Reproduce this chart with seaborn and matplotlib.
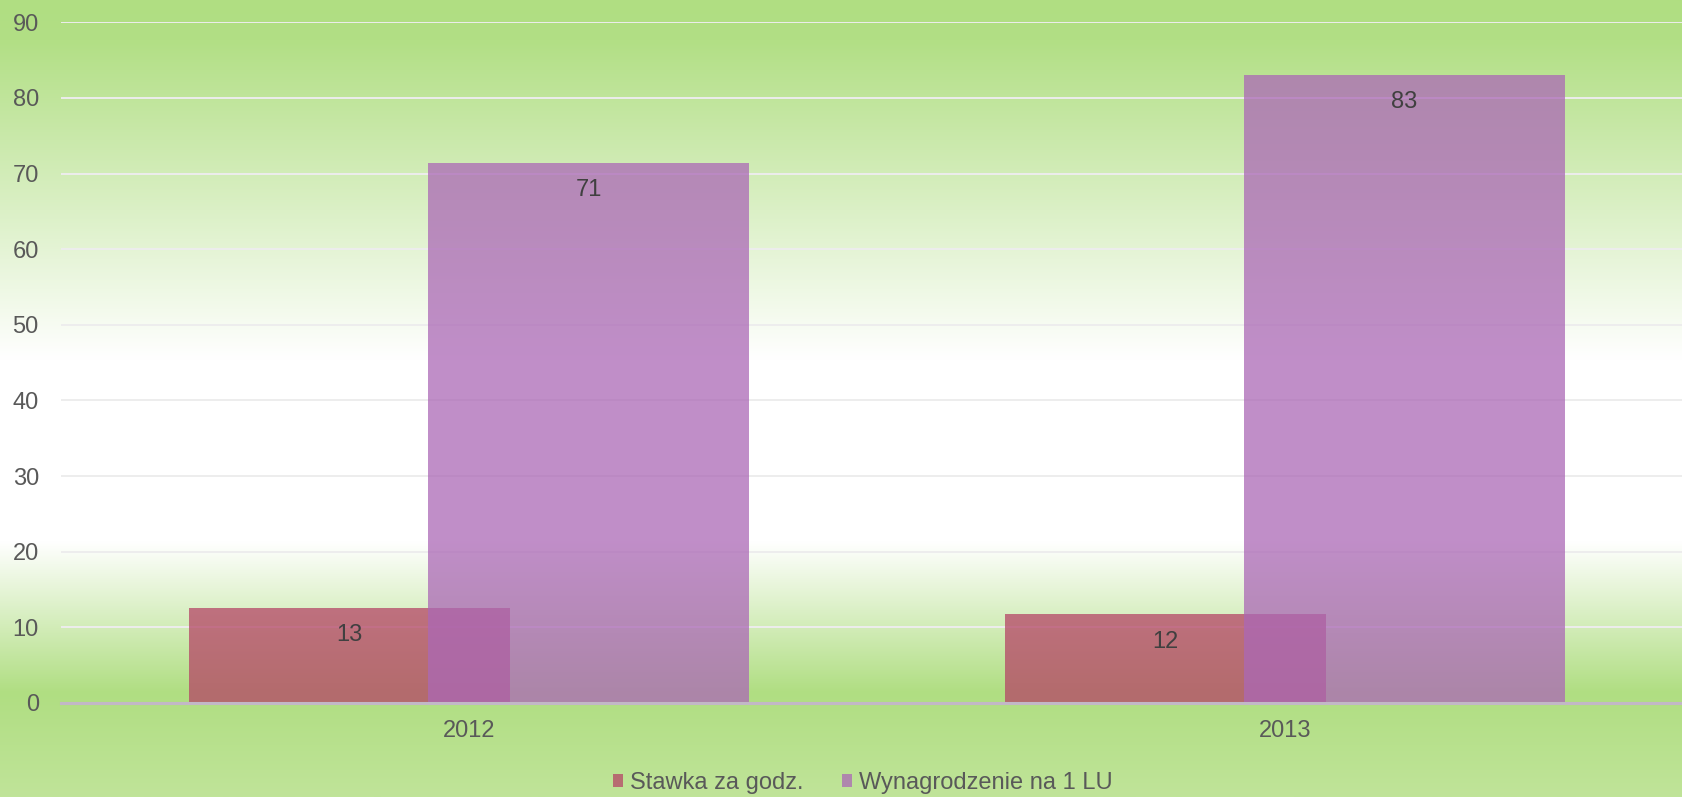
import numpy as np
import pandas as pd
import matplotlib
matplotlib.use("Agg")
import matplotlib.pyplot as plt
import seaborn as sns

# data
years = ["2012", "2013"]
stawka = [12.6, 11.7]          # Stawka za godz.
wynagrodzenie = [71.4, 83.0]   # Wynagrodzenie na 1 LU
series_names = ["Stawka za godz.", "Wynagrodzenie na 1 LU"]
y_ticks = list(range(0, 100, 10))

plt.rcParams["font.family"] = ["Liberation Sans", "DejaVu Sans"]
text_color = "#595959"

fig = plt.figure(figsize=(16.82, 7.97), dpi=100)

# green - white - green background gradient
stops = [(0.00, (176, 222, 130)), (0.05, (178, 223, 133)), (0.45, (255, 255, 255)),
         (0.68, (255, 255, 255)), (0.87, (176, 222, 130)), (1.00, (192, 228, 153))]
ys = np.linspace(0, 1, 400)
grad = np.zeros((400, 1, 3))
for c in range(3):
    grad[:, 0, c] = np.interp(ys, [s[0] for s in stops], [s[1][c] / 255 for s in stops])
bg = fig.add_axes([0, 0, 1, 1], zorder=0)
bg.imshow(grad, aspect="auto", extent=[0, 1, 0, 1])
bg.axis("off")

ax = fig.add_axes([0.0363, 0.118, 0.97, 0.854], zorder=1)
ax.patch.set_alpha(0)

bar_w = 0.393
shift = 0.1465
pos = np.arange(len(years))

df = pd.DataFrame({"year": years, "pos": pos, "stawka": stawka, "wyn": wynagrodzenie})

sns.barplot(x=df["pos"] - shift, y=df["stawka"], native_scale=True, width=bar_w,
            color="#b54566", alpha=0.75, saturation=1, errorbar=None,
            label=series_names[0], ax=ax, zorder=2)
sns.barplot(x=df["pos"] + shift, y=df["wyn"], native_scale=True, width=bar_w,
            color="#ab68b6", alpha=0.75, saturation=1, errorbar=None,
            label=series_names[1], ax=ax, zorder=3)

for cont, vals in zip(ax.containers, [stawka, wynagrodzenie]):
    for bar, v in zip(cont, vals):
        ax.annotate(f"{v:.0f}", (bar.get_x() + bar.get_width() / 2, bar.get_height()),
                    xytext=(0, -19.5), textcoords="offset points", ha="center", va="center",
                    fontsize=17, color="#404040", zorder=5)

ax.set_xlim(-0.5, 1.5)
ax.set_ylim(0, 90)
ax.set_yticks(y_ticks)
ax.set_xticks(pos)
ax.set_xticklabels(years)
ax.set_xlabel("")
ax.set_ylabel("")
for s in ax.spines.values():
    s.set_visible(False)
ax.yaxis.grid(True, color="#ededed", lw=1.4)
ax.xaxis.grid(False)
ax.set_axisbelow(True)
ax.axhline(0, color="#c2b8c6", lw=2.2, zorder=4, clip_on=False)
ax.tick_params(axis="both", length=0, labelsize=17, labelcolor=text_color)
ax.tick_params(axis="y", pad=16)
ax.tick_params(axis="x", pad=12.5)

handles, labels = ax.get_legend_handles_labels()
if ax.get_legend() is not None:
    ax.get_legend().remove()
fig.legend(handles, labels, loc="center", bbox_to_anchor=(0.513, 0.018), ncol=2,
           frameon=False, fontsize=17, labelcolor=text_color, handlelength=0.45,
           handleheight=0.45, handletextpad=0.3, columnspacing=1.6)

fig.savefig("out.png", dpi=100)
